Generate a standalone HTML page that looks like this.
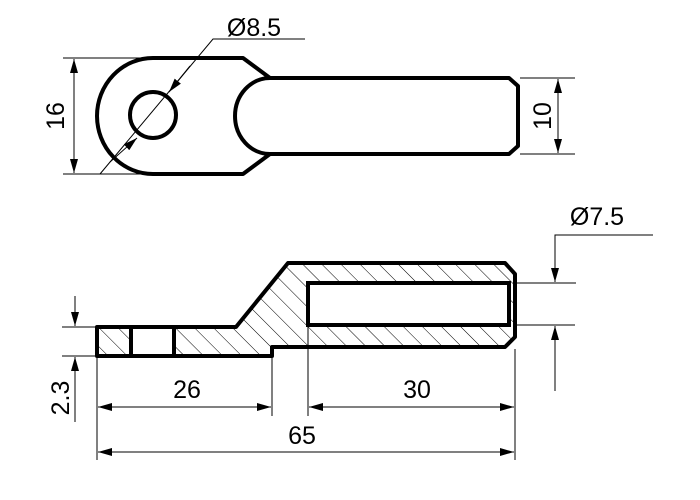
<!DOCTYPE html>
<html><head><meta charset="utf-8"><style>html,body{margin:0;padding:0;background:#fff}svg{display:block}</style></head>
<body>
<svg width="700" height="500" viewBox="0 0 700 500" xmlns="http://www.w3.org/2000/svg" font-family="Liberation Sans, Arial, sans-serif">
<defs>
<marker id="a" viewBox="0 0 14 8" refX="14" refY="4" markerWidth="14" markerHeight="8" markerUnits="userSpaceOnUse" orient="auto"><path d="M0,0 L14,4 L0,8 Z" fill="#000"/></marker>
<pattern id="h" patternUnits="userSpaceOnUse" width="13.5" height="13.5" patternTransform="rotate(-45)"><line x1="0" y1="0" x2="0" y2="13.5" stroke="#000" stroke-width="1"/></pattern>
</defs>
<!-- TOP VIEW -->
<path d="M153,58 L243,58 L270,78 L509,78 L518,86 L518,146 L509,154 L270,154 L243,174 L153,174 A56,58 0 0 1 153,58 Z" fill="none" stroke="#000" stroke-width="4" stroke-linejoin="round"/>
<path d="M270,78 A35,38 0 0 0 270,154" fill="none" stroke="#000" stroke-width="4"/>
<circle cx="153" cy="115" r="23" fill="none" stroke="#000" stroke-width="4"/>
<g stroke="#000" stroke-width="1">
<line x1="63" y1="58" x2="152" y2="58"/><line x1="63" y1="174" x2="152" y2="174"/>
<line x1="74" y1="116" x2="74" y2="173" marker-end="url(#a)"/><line x1="74" y1="116" x2="74" y2="59" marker-end="url(#a)"/>
<polyline points="100,174 213,39 305,39" fill="none"/>
<line x1="190" y1="66" x2="169" y2="92" marker-end="url(#a)"/>
<line x1="110" y1="162" x2="137" y2="138" marker-end="url(#a)"/>
<line x1="520" y1="78" x2="575" y2="78"/><line x1="520" y1="154" x2="575" y2="154"/>
<line x1="558" y1="116" x2="558" y2="79" marker-end="url(#a)"/><line x1="558" y1="116" x2="558" y2="153" marker-end="url(#a)"/>
</g>
<text x="0" y="0" font-size="25" text-anchor="middle" transform="translate(64,116) rotate(-90)">16</text>
<text x="0" y="0" font-size="25" text-anchor="middle" transform="translate(551,116) rotate(-90)">10</text>
<text x="254" y="36" font-size="25" text-anchor="middle">Ø8.5</text>
<!-- SIDE VIEW -->
<path d="M97,327 L236,327 L288,263 L505,263 L515,274 L515,337 L505,347 L272,347 L272,356 L97,356 Z" fill="url(#h)"/>
<rect x="131" y="327" width="43" height="29" fill="#fff"/>
<rect x="308" y="283" width="201" height="42" fill="#fff"/>
<path d="M97,327 L236,327 L288,263 L505,263 L515,274 L515,337 L505,347 L272,347 L272,356 L97,356 Z" fill="none" stroke="#000" stroke-width="4" stroke-linejoin="round"/>
<line x1="131" y1="327" x2="131" y2="356" stroke="#000" stroke-width="4"/>
<line x1="174" y1="327" x2="174" y2="356" stroke="#000" stroke-width="4"/>
<rect x="308" y="283" width="201" height="42" fill="none" stroke="#000" stroke-width="4"/>
<g stroke="#000" stroke-width="1">
<line x1="62" y1="327" x2="97" y2="327"/><line x1="62" y1="356" x2="97" y2="356"/>
<line x1="75" y1="296" x2="75" y2="326" marker-end="url(#a)"/><line x1="75" y1="422" x2="75" y2="357" marker-end="url(#a)"/>
<line x1="97" y1="358" x2="97" y2="460"/><line x1="272" y1="358" x2="272" y2="416"/>
<line x1="308" y1="327" x2="308" y2="416"/><line x1="515" y1="349" x2="515" y2="460"/>
<line x1="185" y1="407" x2="98" y2="407" marker-end="url(#a)"/><line x1="185" y1="407" x2="271" y2="407" marker-end="url(#a)"/>
<line x1="410" y1="407" x2="309" y2="407" marker-end="url(#a)"/><line x1="410" y1="407" x2="514" y2="407" marker-end="url(#a)"/>
<line x1="305" y1="452" x2="98" y2="452" marker-end="url(#a)"/><line x1="305" y1="452" x2="514" y2="452" marker-end="url(#a)"/>
<line x1="517" y1="283" x2="576" y2="283"/><line x1="517" y1="325" x2="575" y2="325"/>
<polyline points="653,235 555,235 555,282" fill="none" marker-end="url(#a)"/>
<line x1="555" y1="391" x2="555" y2="326" marker-end="url(#a)"/>
</g>
<text x="0" y="0" font-size="25" text-anchor="middle" transform="translate(69,398) rotate(-90)">2.3</text>
<text x="187" y="398" font-size="25" text-anchor="middle">26</text>
<text x="417" y="398" font-size="25" text-anchor="middle">30</text>
<text x="302" y="444" font-size="25" text-anchor="middle">65</text>
<text x="597" y="225" font-size="25" text-anchor="middle">Ø7.5</text>
</svg>
</body></html>
